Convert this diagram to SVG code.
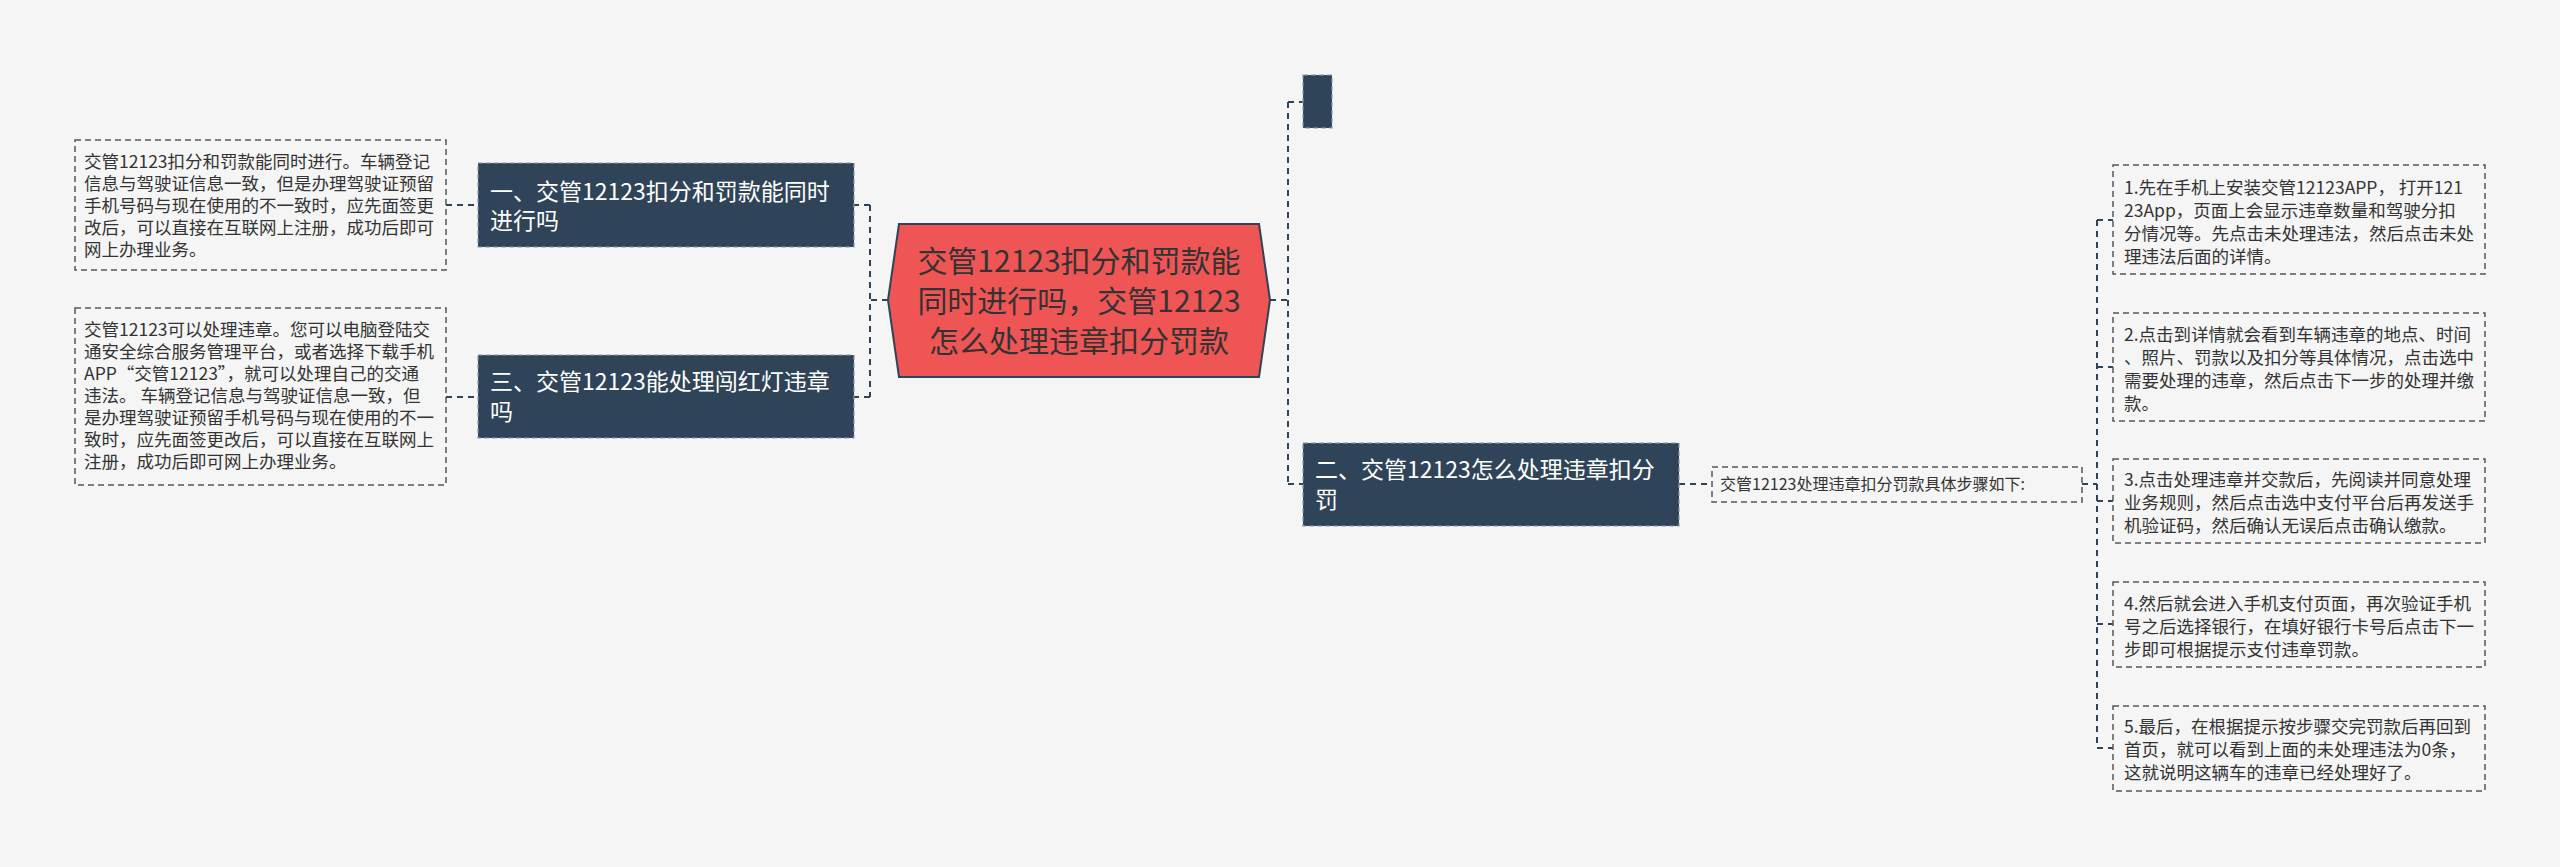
<svg xmlns="http://www.w3.org/2000/svg" width="2560" height="867" viewBox="0 0 2560 867">
<style>
text{font-family:"Noto Sans CJK SC","Liberation Sans",sans-serif}
.c{fill:none;stroke:#2f4459;stroke-width:2;stroke-dasharray:6 5}
.leaf{fill:none;stroke:#555;stroke-width:1.5;stroke-dasharray:6 4}
.lt{font-size:17.5px;fill:#333}
.dark{fill:#2f4459;stroke:#8899aa;stroke-width:1.2;stroke-dasharray:5 3}
.dt{font-size:23px;fill:#fff}
</style>
<rect width="2560" height="867" fill="#f5f5f5"/>
<g id="connectors">
<path class="c" d="M888 300H870M870 205V397M870 205H854M870 397H854"/>
<path class="c" d="M446 205H478M446 397H478"/>
<path class="c" d="M1270 300H1288M1288 102V484M1288 102H1303M1288 484H1303"/>
<path class="c" d="M1679 484H1712"/>
<path class="c" d="M2082 484H2097M2097 220V748M2097 220H2113M2097 367H2113M2097 501H2113M2097 624H2113M2097 748H2113"/>
</g>
<g id="center">
<polygon points="899,224 1259,224 1270,300 1259,377 899,377 888,300" fill="#ef5555" stroke="#2f4459" stroke-width="2"/>
<text font-size="30" fill="#333" text-anchor="middle"><tspan x="1079" y="272">交管12123扣分和罚款能</tspan><tspan x="1079" y="312">同时进行吗，交管12123</tspan><tspan x="1079" y="352">怎么处理违章扣分罚款</tspan></text>
</g>
<g id="n1"><rect class="dark" x="478" y="163" width="376" height="84"/>
<text class="dt"><tspan x="490" y="200">一、交管12123扣分和罚款能同时</tspan><tspan x="490" y="229">进行吗</tspan></text></g>
<g id="n3"><rect class="dark" x="478" y="355" width="376" height="83"/>
<text class="dt"><tspan x="490" y="390">三、交管12123能处理闯红灯违章</tspan><tspan x="490" y="420">吗</tspan></text></g>
<g id="l1"><rect class="leaf" x="75" y="140" width="371" height="130"/>
<text class="lt"><tspan x="84" y="168">交管12123扣分和罚款能同时进行。车辆登记</tspan><tspan x="84" y="190">信息与驾驶证信息一致，但是办理驾驶证预留</tspan><tspan x="84" y="212">手机号码与现在使用的不一致时，应先面签更</tspan><tspan x="84" y="234">改后，可以直接在互联网上注册，成功后即可</tspan><tspan x="84" y="256">网上办理业务。</tspan></text></g>
<g id="l3"><rect class="leaf" x="75" y="308" width="371" height="177"/>
<text class="lt"><tspan x="84" y="336">交管12123可以处理违章。您可以电脑登陆交</tspan><tspan x="84" y="358">通安全综合服务管理平台，或者选择下载手机</tspan><tspan x="84" y="380">APP“交管12123”，就可以处理自己的交通</tspan><tspan x="84" y="402">违法。 车辆登记信息与驾驶证信息一致，但</tspan><tspan x="84" y="424">是办理驾驶证预留手机号码与现在使用的不一</tspan><tspan x="84" y="446">致时，应先面签更改后，可以直接在互联网上</tspan><tspan x="84" y="468">注册，成功后即可网上办理业务。</tspan></text></g>
<g id="nblank"><rect class="dark" x="1303" y="75" width="29" height="53"/></g>
<g id="n2"><rect class="dark" x="1303" y="443" width="376" height="83"/>
<text class="dt"><tspan x="1315" y="478">二、交管12123怎么处理违章扣分</tspan><tspan x="1315" y="508">罚</tspan></text></g>
<g id="lab"><rect class="leaf" x="1712" y="467" width="370" height="35"/>
<text x="1720" y="490" font-size="16" fill="#333">交管12123处理违章扣分罚款具体步骤如下:</text></g>
<g id="s1"><rect class="leaf" x="2113" y="165" width="372" height="109"/>
<text class="lt"><tspan x="2124" y="194">1.先在手机上安装交管12123APP， 打开121</tspan><tspan x="2124" y="217">23App，页面上会显示违章数量和驾驶分扣</tspan><tspan x="2124" y="240">分情况等。先点击未处理违法，然后点击未处</tspan><tspan x="2124" y="263">理违法后面的详情。</tspan></text></g>
<g id="s2"><rect class="leaf" x="2113" y="313" width="372" height="108"/>
<text class="lt"><tspan x="2124" y="341">2.点击到详情就会看到车辆违章的地点、时间</tspan><tspan x="2124" y="364">、照片、罚款以及扣分等具体情况，点击选中</tspan><tspan x="2124" y="387">需要处理的违章，然后点击下一步的处理并缴</tspan><tspan x="2124" y="410">款。</tspan></text></g>
<g id="s3"><rect class="leaf" x="2113" y="459" width="372" height="84"/>
<text class="lt"><tspan x="2124" y="486">3.点击处理违章并交款后，先阅读并同意处理</tspan><tspan x="2124" y="509">业务规则，然后点击选中支付平台后再发送手</tspan><tspan x="2124" y="532">机验证码，然后确认无误后点击确认缴款。</tspan></text></g>
<g id="s4"><rect class="leaf" x="2113" y="582" width="372" height="85"/>
<text class="lt"><tspan x="2124" y="610">4.然后就会进入手机支付页面，再次验证手机</tspan><tspan x="2124" y="633">号之后选择银行，在填好银行卡号后点击下一</tspan><tspan x="2124" y="656">步即可根据提示支付违章罚款。</tspan></text></g>
<g id="s5"><rect class="leaf" x="2113" y="706" width="372" height="85"/>
<text class="lt"><tspan x="2124" y="733">5.最后，在根据提示按步骤交完罚款后再回到</tspan><tspan x="2124" y="756">首页，就可以看到上面的未处理违法为0条，</tspan><tspan x="2124" y="779">这就说明这辆车的违章已经处理好了。</tspan></text></g>
</svg>
